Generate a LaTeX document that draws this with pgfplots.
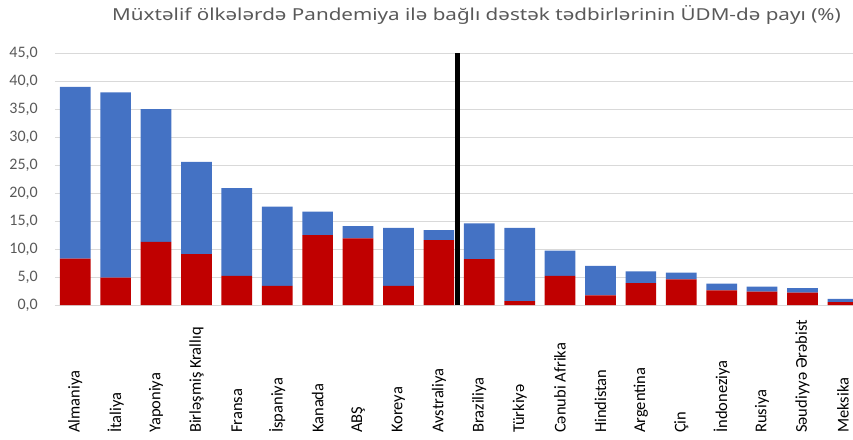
\documentclass[border=0pt]{standalone}
\usepackage{pgfplots}
\usepackage{pgfplotstable}
\pgfplotsset{compat=1.18}
\usepackage{fontspec}
\setmainfont{Carlito}
\newfontfamily\titlefont[FakeStretch=1.25]{Noto Sans}

\definecolor{barred}{HTML}{C00000}
\definecolor{barblue}{HTML}{4472C4}
\definecolor{gridgray}{HTML}{D9D9D9}
\definecolor{txtgray}{HTML}{595959}

% red = bottom part, blue = rest up to the total
\pgfplotstableread{
x red blue
0  8.3 30.7
1  4.9 33.1
2  11.3 23.7
3  9.1 16.5
4  5.2 15.7
5  3.4 14.2
6  12.5 4.2
7  11.9 2.2
8  3.4 10.4
9  11.6 1.8
10 8.2 6.4
11 0.7 13.1
12 5.2 4.5
13 1.7 5.3
14 3.9 2.1
15 4.6 1.2
16 2.6 1.2
17 2.4 0.9
18 2.2 0.8
19 0.5 0.6
}\gdpdata

\begin{document}
\begin{tikzpicture}
\useasboundingbox (-55pt,-134pt) rectangle (798pt,305pt);
\begin{axis}[
    scale only axis,
    width=798pt,
    height=251.7pt,
    ybar stacked,
    bar width=30.7pt,
    xmin=-0.5, xmax=19.25,
    ymin=0, ymax=45,
    ytick={0,5,...,45},
    xtick=data,
    xticklabels={Almaniya,İtaliya,Yaponiya,Birləşmiş Krallıq,Fransa,İspaniya,Kanada,ABŞ,Koreya,Avstraliya,Braziliya,Türkiyə,Cənubi Afrika,Hindistan,Argentina,Çin,İndoneziya,Rusiya,Səudiyyə Ərəbist,Meksika},
    axis line style={draw=none},
    major tick length=0pt,
    ymajorgrids=true,
    grid style={gridgray, line width=1pt},
    /pgf/number format/assume math mode=true,
    yticklabel style={/pgf/number format/.cd, fixed, fixed zerofill, precision=1, use comma, /tikz/.cd,
        font=\fontsize{16}{16}\selectfont, text=txtgray, anchor=east, inner sep=0pt, xshift=-17pt},
    xticklabel style={rotate=90, anchor=west, inner sep=0pt, font=\fontsize{16.5}{16.5}\selectfont, text=black},
    xticklabel shift=128pt,
]
\addplot[fill=barred, draw=none] table[x=x, y=red] {\gdpdata};
\addplot[fill=barblue, draw=none] table[x=x, y=blue] {\gdpdata};
\end{axis}
\begin{axis}[
    scale only axis,
    width=798pt,
    height=251.7pt,
    xmin=-0.5, xmax=19.25,
    ymin=0, ymax=45,
    hide axis,
]
\addplot[black, line width=5pt] coordinates {(9.46,0) (9.46,45)};
\end{axis}
\node[font=\titlefont\fontsize{16.5}{16.5}\selectfont, text=txtgray] at (421.5pt,290pt)
    {Müxtəlif ölkələrdə Pandemiya ilə bağlı dəstək tədbirlərinin ÜDM-də payı (\%)};
\end{tikzpicture}
\end{document}
